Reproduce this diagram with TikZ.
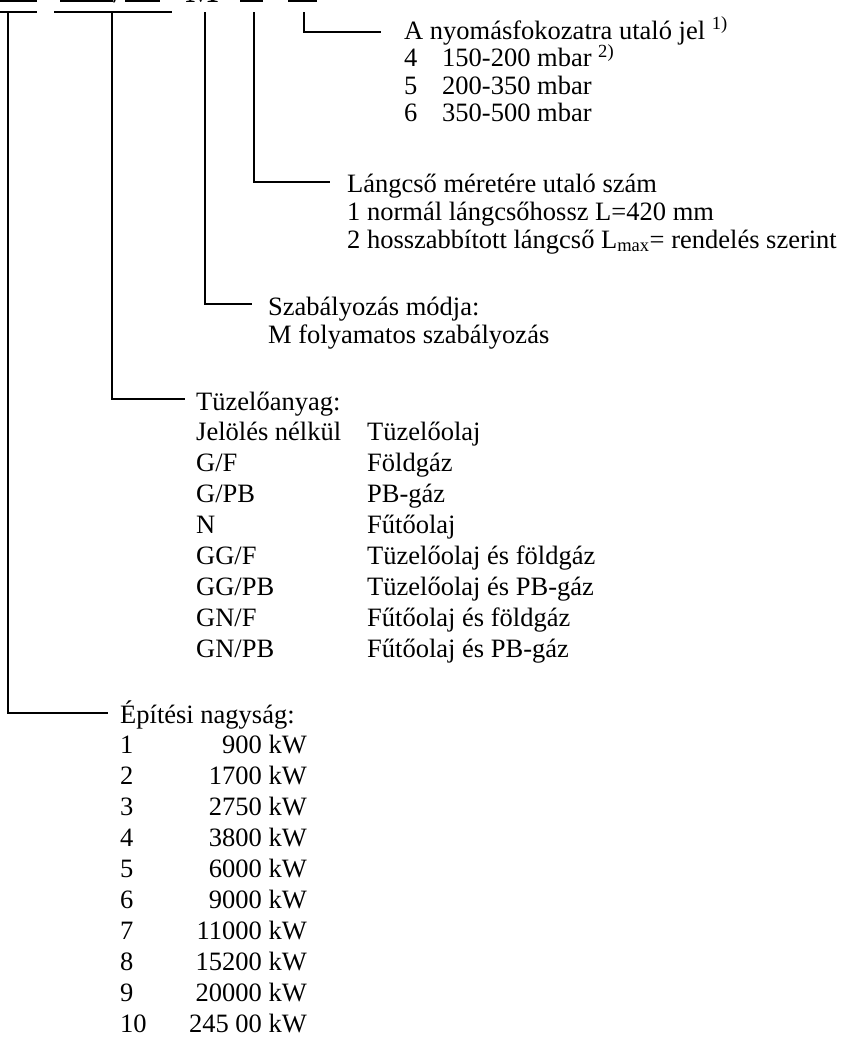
\documentclass[tikz,border=0pt]{standalone}
\usepackage{fontspec}
\setmainfont{Liberation Serif}
\begin{document}
\begin{tikzpicture}[x=1pt,y=-1pt,
  lbl/.style={anchor=base west,inner sep=0pt,font=\fontsize{26.5}{30.9}\selectfont},
  lblr/.style={anchor=base east,inner sep=0pt,font=\fontsize{26.5}{30.9}\selectfont},
  code/.style={anchor=base,inner sep=0pt,font=\fontsize{38}{40}\selectfont},
  leader/.style={line width=1.5pt},
  bar/.style={fill=black}]
\useasboundingbox (0,0) rectangle (841,1037);
% cut-off type code at the top
\fill[bar] (0,0) rectangle (37,2.2);
\fill[bar] (60,0) rectangle (113,2.2);
\fill[bar] (125,0) rectangle (160,2.2);
\fill[bar] (240,0) rectangle (263,2.2);
\fill[bar] (288,0) rectangle (317,2.2);
\node[code] (codeS) at (119,2.5) {/};
\node[code] (codeM) at (202,2.5) {M};
% brackets under the code
\coordinate (b1l) at (0,12); \coordinate (b1r) at (37,12);
\coordinate (b2l) at (54,12); \coordinate (b2r) at (172,12);
\draw[leader] (b1l) -- (b1r);
\draw[leader] (b2l) -- (b2r);
\coordinate (t1) at (8,12);
\coordinate (t2) at (112,12);
\coordinate (t3) at (205,12);
\coordinate (t4) at (254,12);
\coordinate (t5) at (304,12);
\coordinate (e1) at (108,713);
\coordinate (e2) at (185,399);
\coordinate (e3) at (252,304);
\coordinate (e4) at (330,182);
\coordinate (e5) at (381,32);
\draw[leader] (t1) |- (e1);
\draw[leader] (t2) |- (e2);
\draw[leader] (t3) |- (e3);
\draw[leader] (t4) |- (e4);
\draw[leader] (t5) |- (e5);
% pressure stage
\node[lbl] (p0) at (404,39) {A nyomásfokozatra utaló jel \textsuperscript{1)}};
\node[lbl] (p1a) at (404,66.5) {4}; \node[lbl] (p1b) at (442,66.5) {150-200 mbar \textsuperscript{2)}};
\node[lbl] (p2a) at (404,94) {5}; \node[lbl] (p2b) at (442,94) {200-350 mbar};
\node[lbl] (p3a) at (404,121.5) {6}; \node[lbl] (p3b) at (442,121.5) {350-500 mbar};
% flame tube
\node[lbl] (l0) at (347,192) {Lángcső méretére utaló szám};
\node[lbl] (l1) at (347,220) {1 normál lángcsőhossz L=420 mm};
\node[lbl] (l2) at (347,248) {2 hosszabbított lángcső L\textsubscript{max}= rendelés szerint};
% control
\node[lbl] (s0) at (268,315) {Szabályozás módja:};
\node[lbl] (s1) at (268,343) {M folyamatos szabályozás};
% fuel
\node[lbl] (f0) at (196,410) {Tüzelőanyag:};
\foreach \k/\a/\b in {1/Jelölés nélkül/Tüzelőolaj, 2/G\slash F/Földgáz, 3/G\slash PB/PB-gáz, 4/N/Fűtőolaj, 5/GG\slash F/Tüzelőolaj és földgáz, 6/GG\slash PB/Tüzelőolaj és PB-gáz, 7/GN\slash F/Fűtőolaj és földgáz, 8/GN\slash PB/Fűtőolaj és PB-gáz}{
  \node[lbl] (fa\k) at (196,410+\k*30.9) {\a};
  \node[lbl] (fb\k) at (367,410+\k*30.9) {\b};
}
% size
\node[lbl] (g0) at (120,723) {Építési nagyság:};
\foreach \k/\v in {1/900, 2/1700, 3/2750, 4/3800, 5/6000, 6/9000, 7/11000, 8/15200, 9/20000, 10/245 00}{
  \node[lbl] (ga\k) at (120,723+\k*30.9) {\k};
  \node[lblr] (gb\k) at (307,723+\k*30.9) {\v{} kW};
}
\end{tikzpicture}
\end{document}
